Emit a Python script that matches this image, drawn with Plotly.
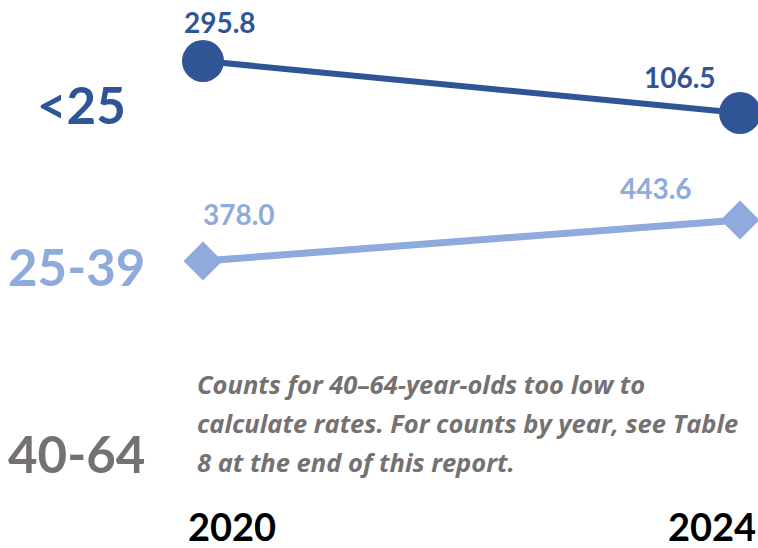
import plotly.graph_objects as go

years = [2020, 2024]
under25 = [295.8, 106.5]
age25_39 = [378.0, 443.6]
group_labels = ["<25", "25-39", "40-64"]
year_labels = ["2020", "2024"]
note_lines = [
    "Counts for 40–64-year-olds too low to",
    "calculate rates. For counts by year, see Table",
    "8 at the end of this report.",
]

DARK = "#2F5597"
LIGHT = "#8FAADC"
GRAY = "#767171"
FONT = "Lato"
W, H = 758, 548

fig = go.Figure()
fig.add_trace(go.Scatter(
    x=years, y=under25, mode="lines+markers", yaxis="y",
    line=dict(color=DARK, width=6),
    marker=dict(symbol="circle", size=42, color=DARK),
    hoverinfo="skip", showlegend=False,
))
fig.add_trace(go.Scatter(
    x=years, y=age25_39, mode="lines+markers", yaxis="y2",
    line=dict(color=LIGHT, width=7),
    marker=dict(symbol="diamond", size=30, color=LIGHT),
    hoverinfo="skip", showlegend=False,
))

ann = []
# value labels
offs1 = [(17, 39), (-60, 36)]
for x, v, (dx, dy) in zip(years, under25, offs1):
    ann.append(dict(x=x, y=v, xref="x", yref="y", text=f"<b>{v:.1f}</b>",
                    showarrow=False, xshift=dx, yshift=dy,
                    font=dict(family=FONT, size=28, color=DARK)))
offs2 = [(36, 47), (-84, 32)]
for x, v, (dx, dy) in zip(years, age25_39, offs2):
    ann.append(dict(x=x, y=v, xref="x", yref="y2", text=f"<b>{v:.1f}</b>",
                    showarrow=False, xshift=dx, yshift=dy,
                    font=dict(family=FONT, size=28, color=LIGHT)))

def px(xp, yp):
    return xp / W, 1 - yp / H

# group labels
for lab, (cx, cy), col in zip(group_labels, [(81, 104), (76, 266), (76, 453)], [DARK, LIGHT, GRAY]):
    xx, yy = px(cx, cy)
    ann.append(dict(x=xx, y=yy, xref="paper", yref="paper", text=f"<b>{lab}</b>",
                    showarrow=False, xanchor="center", yanchor="middle",
                    font=dict(family=FONT, size=51, color=col)))

# note
for i, line in enumerate(note_lines):
    xx, yy = px(195, 384 + 39 * i)
    ann.append(dict(x=xx, y=yy, xref="paper", yref="paper", text=f"<b><i>{line}</i></b>",
                    showarrow=False, xanchor="left", yanchor="middle",
                    font=dict(family="Open Sans", size=25.5, color=GRAY)))

# year labels
for lab, cx in zip(year_labels, [232, 712]):
    xx, yy = px(cx, 526)
    ann.append(dict(x=xx, y=yy, xref="paper", yref="paper", text=f"<b>{lab}</b>",
                    showarrow=False, xanchor="center", yanchor="middle",
                    font=dict(family=FONT, size=38, color="black")))

fig.update_layout(
    width=W, height=H,
    margin=dict(l=0, r=0, t=0, b=0),
    paper_bgcolor="white", plot_bgcolor="white",
    xaxis=dict(range=[2018.488, 2024.134], visible=False, fixedrange=True),
    yaxis=dict(range=[-1477.1, 517.8], visible=False, fixedrange=True),
    yaxis2=dict(range=[-81.2, 795.6], visible=False, overlaying="y", fixedrange=True),
    annotations=ann,
)

fig.write_html("out.html", config={"displayModeBar": False},
               post_script="document.body.style.margin='0';document.body.style.overflow='hidden';")
